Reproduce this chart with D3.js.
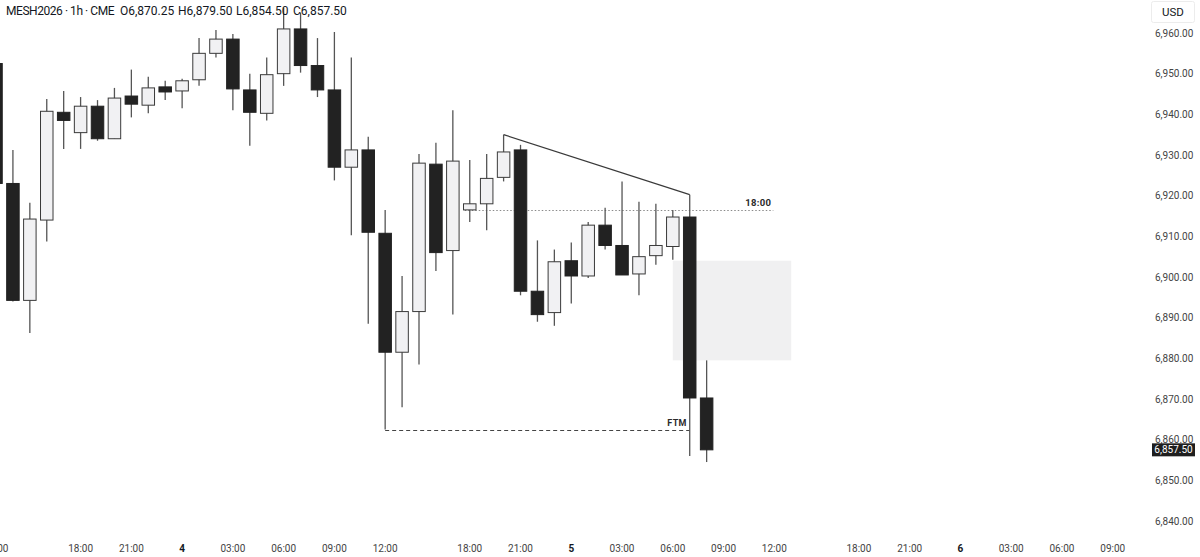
<!DOCTYPE html>
<html><head><meta charset="utf-8">
<script src="https://cdn.jsdelivr.net/npm/d3@7/dist/d3.min.js"></script>
<style>
html,body{margin:0;padding:0;background:#fff;}
svg{display:block;font-family:Roboto,"Noto Sans",sans-serif;}
</style></head>
<body><svg id="chart" width="1200" height="557"></svg>
<script>
// ---- data ----
const symbolTitle = "MESH2026 · 1h · CME";
const ohlcLabels = ["O6,870.25", "H6,879.50", "L6,854.50", "C6,857.50"];
const barTimes = [
  "3 12:00","3 13:00","3 14:00","3 15:00","3 16:00","3 18:00","3 19:00","3 20:00","3 21:00","3 22:00","3 23:00",
  "4 00:00","4 01:00","4 02:00","4 03:00","4 04:00","4 05:00","4 06:00","4 07:00","4 08:00","4 09:00","4 10:00",
  "4 11:00","4 12:00","4 13:00","4 14:00","4 15:00","4 16:00","4 18:00","4 19:00","4 20:00","4 21:00","4 22:00","4 23:00",
  "5 00:00","5 01:00","5 02:00","5 03:00","5 04:00","5 05:00","5 06:00","5 07:00","5 08:00"];
const opens  = [6952.5,6923,6894.25,6914,6940.5,6935.5,6942,6934,6944.5,6942.25,6946.75,
  6945.75,6948.5,6955,6958.5,6946,6940.25,6950,6961,6952,6946,6927,
  6931.25,6910.75,6881.5,6891.5,6927.75,6906.5,6916.5,6918,6924.5,6931.25,6896.5,6891.25,
  6904,6900.25,6912.75,6907.75,6900.75,6905.25,6907.5,6914.75,6870.25];
const highs  = [6956,6931.25,6918.25,6943.75,6945.75,6944.25,6943.5,6946.5,6951,6949.25,6948.25,
  6948.75,6958.75,6960.75,6959.75,6950,6954,6966.25,6965,6958.75,6960.25,6954,
  6934.5,6916.5,6900.25,6930.25,6933,6941,6928.75,6930.25,6935,6932.5,6909,6906.75,
  6908.5,6913.5,6917,6923.5,6918.5,6918,6916.5,6920.25,6879.5];
const lows   = [6922,6894,6886.25,6908.75,6931.5,6931.5,6933.5,6934,6939.25,6940.25,6943.5,
  6941.5,6947,6954,6941,6932.25,6938.5,6947,6950.25,6944.25,6923.75,6910.25,
  6888.5,6862.5,6868,6878.5,6901.5,6890.75,6913.5,6911.5,6923.5,6895.5,6889,6888,
  6893.5,6899.75,6906.75,6900.5,6895.5,6903,6904.25,6856,6854.5];
const closes = [6923,6894.25,6914.25,6940.75,6938.5,6942,6934,6944,6942.5,6946.5,6945.5,
  6948.25,6955,6958.5,6946.25,6940.5,6949.75,6961,6952,6946,6927,6931.25,
  6911,6881.5,6891.5,6928,6906,6928.5,6918,6924.25,6930.75,6896.5,6890.75,6903.75,
  6900.25,6912.75,6907.75,6900.5,6905,6907.75,6914.75,6870.25,6857.5];

const priceTicks = [6840,6850,6860,6870,6880,6890,6900,6910,6920,6930,6940,6950,6960];
const timeTickSlots  = ["3 12:00","3 18:00","3 21:00","4 00:00","4 03:00","4 06:00","4 09:00","4 12:00","4 18:00","4 21:00",
  "5 00:00","5 03:00","5 06:00","5 09:00","5 12:00","5 18:00","5 21:00","6 00:00","6 03:00","6 06:00","6 09:00"];
const timeTickLabels = ["12:00","18:00","21:00","4","03:00","06:00","09:00","12:00","18:00","21:00",
  "5","03:00","06:00","09:00","12:00","18:00","21:00","6","03:00","06:00","09:00"];
const dayStartLabels = ["4","5","6"];

// annotations
const trendFrom = {slot:"4 20:00", price:6935};
const trendTo   = {slot:"5 07:00", price:6920.25};
const sessionOpen = {slot:"4 18:00", endSlot:"5 12:00", price:6916.5, label:"18:00"};
const zone = {fromSlot:"5 06:00", toSlot:"5 13:00", top:6904, bottom:6879.5};
const ftm = {fromSlot:"4 12:00", toSlot:"5 07:00", price:6862.5, label:"FTM"};
const lastPrice = 6857.5;

// ---- time slots (session hours, 17:00 maintenance hour skipped) ----
const slots = [];
for (let d = 3; d <= 6; d++) {
  for (let h = 0; h < 24; h++) {
    if (h === 17) continue;
    if (d === 3 && h < 12) continue;
    if (d === 6 && h > 12) continue;
    slots.push(d + " " + String(h).padStart(2,"0") + ":00");
  }
}

const svg = d3.select("#chart");
const plotRight = 1140, plotBottom = 535;
const step = 16.92, x0 = -4;

const x = d3.scalePoint().domain(slots).range([x0, x0 + step*(slots.length-1)]);
const y = d3.scaleLinear().domain([6840, 6960]).range([521, 33]);

svg.append("defs").append("clipPath").attr("id","plotclip")
  .append("rect").attr("x",0).attr("y",0).attr("width",plotRight).attr("height",plotBottom);

const plot = svg.append("g").attr("clip-path","url(#plotclip)");

// zone
plot.append("rect")
  .attr("x", x(zone.fromSlot)).attr("y", y(zone.top))
  .attr("width", x(zone.toSlot) - x(zone.fromSlot))
  .attr("height", y(zone.bottom) - y(zone.top))
  .attr("fill", "#f0f0f1");

// session open dotted line
plot.append("line")
  .attr("x1", x(sessionOpen.slot) - 5).attr("x2", x(sessionOpen.endSlot) - 1)
  .attr("y1", Math.round(y(sessionOpen.price)) + 0.5).attr("y2", Math.round(y(sessionOpen.price)) + 0.5)
  .attr("stroke", "#8a8a8a").attr("stroke-width", 1).attr("stroke-dasharray", "1.5,2");
plot.append("text")
  .attr("x", x(sessionOpen.endSlot) - 3).attr("y", y(sessionOpen.price) - 4)
  .attr("text-anchor","end").attr("font-size", 9.5).attr("font-weight", 700)
  .attr("fill","#2a2a2a").attr("letter-spacing","0.3").text(sessionOpen.label);

// FTM dashed line
plot.append("line")
  .attr("x1", x(ftm.fromSlot)).attr("x2", x(ftm.toSlot))
  .attr("y1", Math.round(y(ftm.price)) + 0.5).attr("y2", Math.round(y(ftm.price)) + 0.5)
  .attr("stroke", "#444").attr("stroke-width", 1).attr("stroke-dasharray", "4,3");
plot.append("text")
  .attr("x", x(ftm.toSlot) - 3).attr("y", y(ftm.price) - 4)
  .attr("text-anchor","end").attr("font-size", 9).attr("font-weight", 700)
  .attr("fill","#2a2a2a").attr("letter-spacing","0.3").text(ftm.label);

// candles
const bars = barTimes.map((t,i) => ({t, o:opens[i], h:highs[i], l:lows[i], c:closes[i]}));
const bw = 12.5;
const g = plot.selectAll("g.bar").data(bars).enter().append("g").attr("class","bar");
g.append("line")
  .attr("x1", d => x(d.t)).attr("x2", d => x(d.t))
  .attr("y1", d => y(d.h)).attr("y2", d => y(d.l))
  .attr("stroke", "#555").attr("stroke-width", 1.3);
g.append("rect")
  .attr("x", d => x(d.t) - bw/2)
  .attr("y", d => y(Math.max(d.o,d.c)))
  .attr("width", bw)
  .attr("height", d => Math.max(1, Math.abs(y(d.o) - y(d.c))))
  .attr("fill", d => d.c < d.o ? "#222222" : "#f1f1f3")
  .attr("stroke", d => d.c < d.o ? "#222222" : "#3a3a3a")
  .attr("stroke-width", 1);

// trendline
plot.append("line")
  .attr("x1", x(trendFrom.slot)).attr("y1", y(trendFrom.price))
  .attr("x2", x(trendTo.slot)).attr("y2", y(trendTo.price))
  .attr("stroke", "#3a3a3a").attr("stroke-width", 1.2);

// header
const header = svg.append("g").attr("font-size", 12).attr("fill", "#131722");
header.append("text").attr("x", 6).attr("y", 15).attr("letter-spacing", "-0.45").text(symbolTitle);
const ohlcX = [120, 178, 236, 293];
ohlcLabels.forEach((s,i) => header.append("text").attr("x", ohlcX[i]).attr("y", 15).text(s));

// price axis
const yAxis = d3.axisRight(y).tickValues(priceTicks).tickSize(0).tickPadding(0)
  .tickFormat(d3.format(",.2f"));
const ya = svg.append("g").attr("transform", "translate(1155,0)").call(yAxis);
ya.select(".domain").remove();
ya.selectAll("text").attr("font-size", 10).attr("fill", "#444").attr("font-family","Roboto,sans-serif");

// USD box
svg.append("rect").attr("x", 1151.5).attr("y", 1.5).attr("width", 43).attr("height", 21)
  .attr("rx", 2).attr("fill", "#fff").attr("stroke", "#ececec");
svg.append("text").attr("x", 1173).attr("y", 16).attr("text-anchor","middle")
  .attr("font-size", 11.5).attr("fill","#131722").text("USD");

// last price tag
svg.append("rect").attr("x", 1152).attr("y", y(lastPrice) - 6.5).attr("width", 43).attr("height", 13)
  .attr("fill", "#1e1e1e");
svg.append("text").attr("x", 1173.5).attr("y", y(lastPrice) + 3.6).attr("text-anchor","middle")
  .attr("font-size", 10).attr("fill","#fff").text(d3.format(",.2f")(lastPrice));

// time axis
const xa = svg.append("g").attr("font-size", 10).attr("fill", "#444");
timeTickSlots.forEach((s,i) => {
  const lab = timeTickLabels[i];
  xa.append("text").attr("x", x(s)).attr("y", 552).attr("text-anchor","middle")
    .attr("font-weight", dayStartLabels.includes(lab) ? 700 : 400)
    .attr("fill", dayStartLabels.includes(lab) ? "#131722" : "#444")
    .text(lab);
});
</script></body></html>
